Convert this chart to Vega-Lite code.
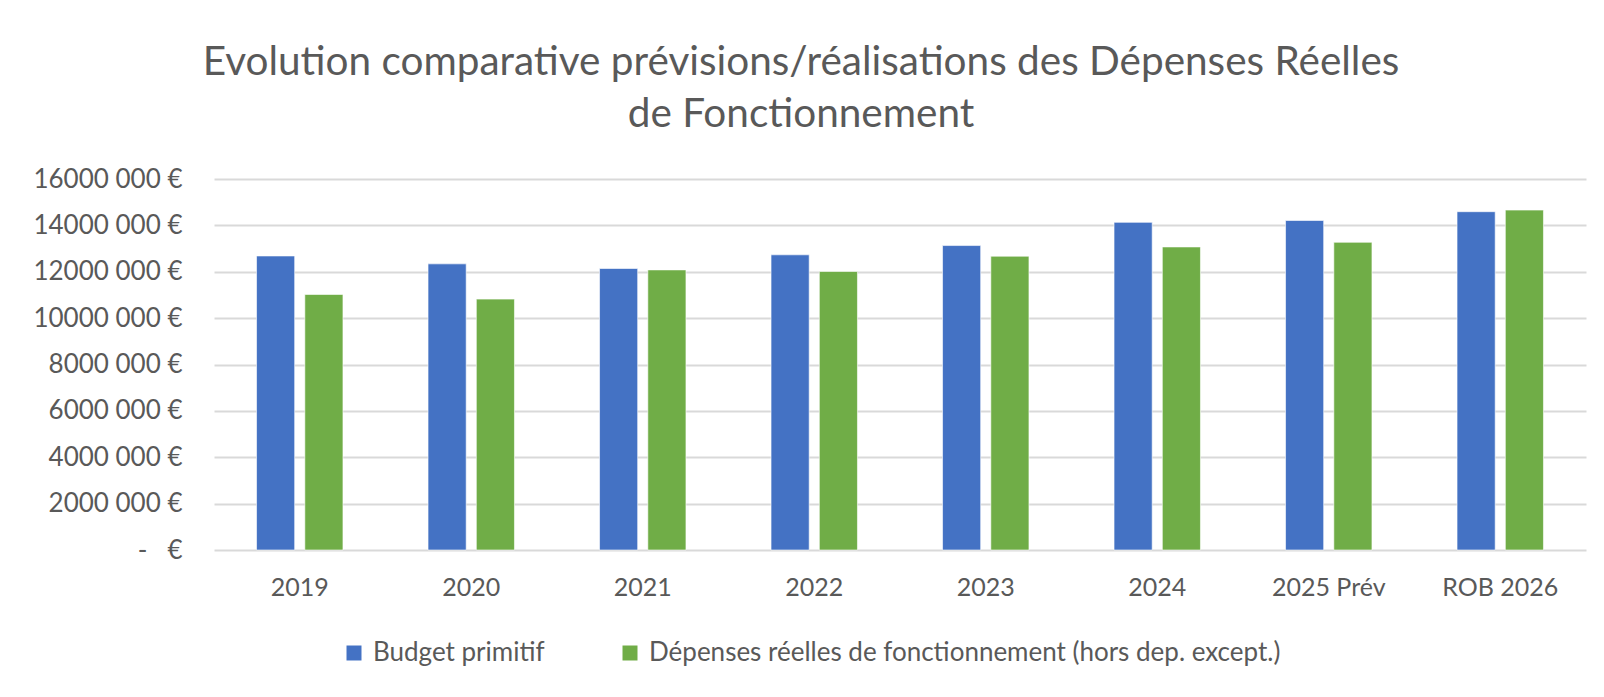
{
  "$schema": "https://vega.github.io/schema/vega-lite/v6.json",
  "autosize": {"type": "none"},
  "width": 1372,
  "height": 371,
  "padding": {"left": 214, "right": 18, "top": 179, "bottom": 147},
  "background": "white",
  "title": {
    "text": ["Evolution comparative prévisions/réalisations des Dépenses Réelles", "de Fonctionnement"],
    "anchor": "middle",
    "frame": "group",
    "dx": -99,
    "offset": 31,
    "font": "Lato",
    "fontSize": 40.5,
    "fontWeight": "normal",
    "color": "#595959",
    "lineHeight": 52
  },
  "data": {
    "values": [
      {"annee": "2019", "serie": "Budget primitif", "montant": 12680000},
      {"annee": "2019", "serie": "Dépenses réelles de fonctionnement (hors dep. except.)", "montant": 11020000},
      {"annee": "2020", "serie": "Budget primitif", "montant": 12340000},
      {"annee": "2020", "serie": "Dépenses réelles de fonctionnement (hors dep. except.)", "montant": 10820000},
      {"annee": "2021", "serie": "Budget primitif", "montant": 12140000},
      {"annee": "2021", "serie": "Dépenses réelles de fonctionnement (hors dep. except.)", "montant": 12080000},
      {"annee": "2022", "serie": "Budget primitif", "montant": 12730000},
      {"annee": "2022", "serie": "Dépenses réelles de fonctionnement (hors dep. except.)", "montant": 12010000},
      {"annee": "2023", "serie": "Budget primitif", "montant": 13130000},
      {"annee": "2023", "serie": "Dépenses réelles de fonctionnement (hors dep. except.)", "montant": 12670000},
      {"annee": "2024", "serie": "Budget primitif", "montant": 14130000},
      {"annee": "2024", "serie": "Dépenses réelles de fonctionnement (hors dep. except.)", "montant": 13070000},
      {"annee": "2025 Prév", "serie": "Budget primitif", "montant": 14210000},
      {"annee": "2025 Prév", "serie": "Dépenses réelles de fonctionnement (hors dep. except.)", "montant": 13270000},
      {"annee": "ROB 2026", "serie": "Budget primitif", "montant": 14590000},
      {"annee": "ROB 2026", "serie": "Dépenses réelles de fonctionnement (hors dep. except.)", "montant": 14660000}
    ]
  },
  "mark": {"type": "bar", "stroke": "white", "strokeWidth": 0.6},
  "encoding": {
    "x": {
      "field": "annee",
      "type": "nominal",
      "sort": null,
      "title": null,
      "scale": {"paddingInner": 0.496, "paddingOuter": 0.248},
      "axis": {
        "labelAngle": 0,
        "labelFont": "Lato",
        "labelFontSize": 25,
        "labelColor": "#595959",
        "labelPadding": 25,
        "ticks": false,
        "domain": false
      }
    },
    "xOffset": {
      "field": "serie",
      "type": "nominal",
      "sort": null,
      "scale": {"paddingInner": 0.21, "paddingOuter": 0}
    },
    "y": {
      "field": "montant",
      "type": "quantitative",
      "title": null,
      "scale": {"domain": [0, 16000000], "nice": false},
      "axis": {
        "values": [0, 2000000, 4000000, 6000000, 8000000, 10000000, 12000000, 14000000, 16000000],
        "labelExpr": "datum.value == 0 ? '-\u00a0\u00a0\u00a0€' : format(datum.value / 1000, 'd') + ' 000 €'",
        "labelFont": "Lato",
        "labelFontSize": 26,
        "labelColor": "#595959",
        "labelPadding": 32,
        "ticks": false,
        "domain": false,
        "gridColor": "#d9d9d9",
        "gridWidth": 2
      }
    },
    "color": {
      "field": "serie",
      "type": "nominal",
      "sort": null,
      "scale": {"range": ["#4472C4", "#70AD47"]},
      "legend": {
        "title": null,
        "orient": "none",
        "direction": "horizontal",
        "legendX": 127,
        "legendY": 461,
        "symbolType": "square",
        "symbolSize": 225,
        "symbolStrokeWidth": 0,
        "labelFont": "Lato",
        "labelFontSize": 26,
        "labelColor": "#595959",
        "labelOffset": 6,
        "columnPadding": 72,
        "labelLimit": 1000
      }
    }
  },
  "config": {
    "view": {"stroke": null}
  }
}
